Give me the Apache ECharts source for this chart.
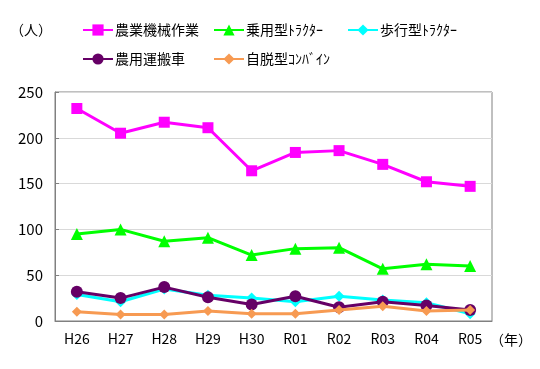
<!DOCTYPE html>
<html><head><meta charset="utf-8">
<script src="https://cdn.jsdelivr.net/npm/echarts@6/dist/echarts.min.js"></script>
<style>html,body{margin:0;padding:0;background:#fff}#c{width:540px;height:369px}</style>
</head><body><div id="c"></div>
<script>
const categories = ['H26','H27','H28','H29','H30','R01','R02','R03','R04','R05'];
const seriesNames = ['農業機械作業','乗用型ﾄﾗｸﾀｰ','歩行型ﾄﾗｸﾀｰ','農用運搬車','自脱型ｺﾝﾊﾞｲﾝ'];
const farmWork   = [232, 205, 217, 211, 164, 184, 186, 171, 152, 147];
const rideTractor = [95, 100, 87, 91, 72, 79, 80, 57, 62, 60];
const walkTractor = [29, 21, 35, 28, 25, 21, 27, 23, 20, 8];
const carrier     = [32, 25, 37, 26, 18, 27, 15, 21, 17, 12];
const combine     = [10, 7, 7, 11, 8, 8, 12, 16, 11, 12];
const yTicks = [0, 50, 100, 150, 200, 250];

const values = [farmWork, rideTractor, walkTractor, carrier, combine];
const colors = ['#FF00FF', '#00FF00', '#00FFFF', '#660066', '#F79A52'];
const symbols = ['rect', 'triangle', 'diamond', 'circle', 'diamond'];
const sizes = [11, 12, 11, 12, 10];
const font = '"Noto Sans CJK JP", sans-serif';

const legendPos = [[82, 23], [213, 23], [347, 23], [82, 52], [213, 52]];

const chart = echarts.init(document.getElementById('c'));
chart.setOption({
  animation: false,
  textStyle: { fontFamily: font },
  grid: { left: 55, right: 48, top: 92, bottom: 48, show: true, borderColor: '#808080', borderWidth: 1 },
  legend: seriesNames.map((n, i) => ({
    data: [n], left: legendPos[i][0], top: legendPos[i][1],
    itemWidth: 30, itemHeight: 14, itemGap: 0,
    textStyle: { fontSize: 14, color: '#000', fontFamily: font, padding: [0, 0, 0, -3] },
    padding: 0
  })),
  xAxis: {
    type: 'category', data: categories, boundaryGap: true,
    axisLine: { lineStyle: { color: '#808080' } },
    axisTick: { inside: true, length: 4, lineStyle: { color: '#808080' } },
    axisLabel: { color: '#000', fontSize: 14, margin: 11, fontFamily: font }
  },
  yAxis: {
    type: 'value', min: 0, max: 250, interval: 50,
    axisLine: { show: true, lineStyle: { color: '#808080' } },
    axisTick: { show: true, inside: true, length: 4, lineStyle: { color: '#808080' } },
    splitLine: { lineStyle: { color: '#D9D9D9' } },
    axisLabel: { color: '#000', fontSize: 15, margin: 12, fontFamily: font,
      formatter: v => yTicks.includes(v) ? String(v) : '' }
  },
  graphic: [
    { type: 'text', left: 10, top: 23, style: { text: '（人）', fontSize: 14, fill: '#000', fontFamily: font } },
    { type: 'text', left: 490, top: 333, style: { text: '（年）', fontSize: 14, fill: '#000', fontFamily: font } }
  ],
  series: seriesNames.map((n, i) => ({
    name: n, type: 'line', data: values[i],
    symbol: symbols[i], symbolSize: sizes[i],
    lineStyle: { color: colors[i], width: 3 },
    itemStyle: { color: colors[i] },
    z: 2 + i
  }))
});
</script></body></html>
